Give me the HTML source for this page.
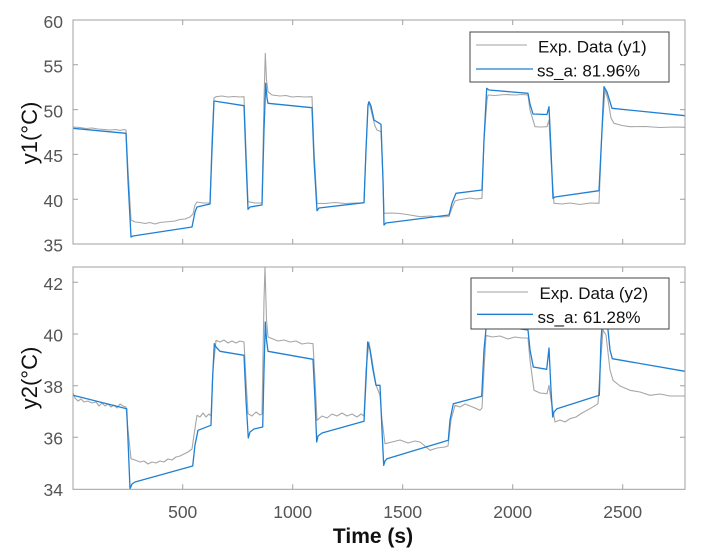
<!DOCTYPE html>
<html><head><meta charset="utf-8"><style>
html,body{margin:0;padding:0;background:#fff;}
svg{display:block;}
text{font-family:"Liberation Sans","Noto Sans CJK KR",sans-serif;}
</style></head><body>
<svg width="715" height="552" viewBox="0 0 715 552" xmlns="http://www.w3.org/2000/svg">
<rect width="715" height="552" fill="#fff"/>
<!-- TOP AXES -->
<g fill="none" stroke-linejoin="round">
<path d="M73,127 L80,127.5 L86,128.5 L92,128 L98,129 L104,129.5 L110,130 L116,129.5 L120,130.5 L124,129.5 L126,130 L128,170 L131,220 L135,222 L140,222.5 L145,223.5 L150,222.5 L155,224 L160,222.5 L165,222 L170,221.5 L175,221 L180,219.5 L185,219 L190,217 L193,214 L195,205 L197,202 L203,203 L210,203 L212,140 L214,98 L216,96.7 L222,96 L228,97 L234,96.5 L240,97 L244,96.7 L246,150 L248,201.7 L255,203 L262,203 L264,100 L265.3,53.3 L266.5,80 L268,91.7 L272,95 L280,96 L286,95.5 L292,97 L298,96.5 L305,97 L312,96.7 L314,150 L317,203.3 L325,203.5 L335,202.5 L345,203.5 L355,203 L364,203 L366,150 L368,106 L369,103 L371,110 L375,126 L377,130 L381,131.7 L383,180 L384,213.3 L392,213 L400,213.5 L410,215 L420,216.7 L430,216 L440,217 L449,216.5 L452,208 L455,201 L458,200 L464,199 L470,198 L476,199 L482,198.3 L484,140 L487,100 L488,95 L495,95.5 L505,94.5 L515,95 L522,94.5 L528,95 L530,110 L535,126.7 L541,127 L547,126.7 L549,120 L551,160 L554,203.3 L562,204 L570,203 L580,204.5 L590,203 L599,203.3 L602,130 L605,90 L608,100 L611,118 L614,123.3 L622,125.5 L630,126.7 L645,126.5 L660,127.5 L675,127 L685,127.3" stroke="#a6a6a6" stroke-width="1.1"/>
<path d="M73,128.3 L126,133.3 L128,180 L131,237 L133,236 L192,227 L195,212 L197,207 L210,204 L212,150 L214,101 L244,105.7 L246,160 L248,209.3 L250,207 L262,205 L264,130 L265.7,83.3 L267,98 L268,103.3 L312,107.7 L314,160 L317,210.7 L319,208 L364,202.7 L366,150 L368,105 L369,101.7 L371,106 L374,120 L381,124.3 L383,180 L384,225 L386,223 L449,215 L452,203 L456,193.3 L482,190 L484,140 L486.7,88.3 L489,90 L528,93.3 L530,104 L533,114 L547,114.5 L549,106.7 L551,150 L553,198.3 L555,197 L599,190.7 L602,130 L604,86.7 L607,92 L612,108.3 L685,115.7" stroke="#1f80d3" stroke-width="1.3"/>
</g>
<rect x="73" y="20" width="612" height="224" fill="none" stroke="#a0a0a0" stroke-width="1"/>
<g stroke="#a0a0a0" stroke-width="1">
<path d="M182.7,20v5M292.7,20v5M402.7,20v5M512.7,20v5M622.7,20v5"/>
<path d="M182.7,244v-5M292.7,244v-5M402.7,244v-5M512.7,244v-5M622.7,244v-5"/>
<path d="M73,64.8h5M73,109.6h5M73,154.4h5M73,199.2h5"/>
<path d="M685,64.8h-5M685,109.6h-5M685,154.4h-5M685,199.2h-5"/>
</g>
<g font-size="17.5" fill="#555" text-anchor="end">
<text x="63" y="28">60</text>
<text x="63" y="72.5">55</text>
<text x="63" y="117.5">50</text>
<text x="63" y="162">45</text>
<text x="63" y="207">40</text>
<text x="63" y="251.5">35</text>
</g>
<text transform="translate(37,133) rotate(-90)" text-anchor="middle" font-size="22" fill="#111">y1(°C)</text>
<!-- top legend -->
<rect x="470" y="32" width="199" height="50" fill="#fff" stroke="#444" stroke-width="1"/>
<path d="M476,45 H527" stroke="#b5b5b5" stroke-width="1.2"/>
<path d="M476,69 H533" stroke="#1f80d3" stroke-width="1.3"/>
<text x="538" y="52.5" font-size="17" fill="#111">Exp. Data (y1)</text>
<text x="537" y="76.5" font-size="17" fill="#111">ss_a: 81.96%</text>

<!-- BOTTOM AXES -->
<g fill="none" stroke-linejoin="round">
<path d="M73,393 L75,398 L78,401 L81,399 L84,402 L88,401 L92,403 L96,402 L99,406 L102,403 L105,406 L108,404 L111,407 L114,405 L117,408 L120,404 L123,406 L126,407 L128,430 L131,458.7 L135,460 L140,462 L144,461 L148,464 L152,462 L156,463 L160,461 L164,462 L168,459 L172,460 L176,457 L180,456 L184,454 L188,452 L192,449 L194,435 L197,415.3 L200,417 L203,413 L206,417 L209,414 L211,416 L213,370 L216,340.3 L220,342 L224,340 L228,343 L232,341 L236,343 L240,341 L244,342 L246,380 L248,413.7 L252,416 L256,412 L260,415 L262,414 L264,300 L265,267 L266.5,320 L268,337 L273,339 L278,341 L284,340 L290,342 L296,341 L302,344 L308,343 L313,343.7 L315,380 L317,420.3 L322,416 L327,418 L332,414 L337,416 L342,413 L347,416 L352,414 L357,417 L361,414 L364,416 L366,370 L369,342 L372,360 L376,385 L380,395.3 L382,420 L385,443.7 L392,442 L400,440 L408,443 L415,441 L420,442 L425,446 L430,450.3 L437,448 L445,447 L448,446 L451,420 L455,405.3 L460,407 L465,404 L470,406 L475,408 L480,410.3 L482,408 L484,370 L486,335.3 L492,337 L500,336 L508,339 L515,337 L522,338 L528,338 L530,360 L534,390.3 L540,393 L547,393.7 L549,385.3 L551,400 L555,422 L560,420 L565,422 L570,418.7 L576,417 L582,413 L590,408.7 L598,403.7 L600,370 L603,330 L606,335 L610,370 L613,380.3 L620,386 L630,390.3 L640,392 L650,395.3 L660,394 L670,396 L685,396" stroke="#a6a6a6" stroke-width="1.1"/>
<path d="M73,395.3 L126.7,408.7 L128,440 L130,488.7 L132,484 L135,482 L192.7,466 L195,445 L198,430.3 L211,425.3 L212.5,380 L214.3,343.7 L216,347 L220,351.3 L244,355.3 L246,400 L248.3,438 L250,432 L254,429 L262.7,427 L264,370 L265.3,322 L266.5,340 L268,351.3 L313,359.3 L315,400 L316.7,442 L318,436 L322,433 L364,421.3 L366,380 L367.7,342 L370,350 L373,370 L376,385.3 L380,385.3 L382,430 L383.7,465.3 L385,461 L387,458.7 L448.3,440.3 L450,420 L453.3,403.7 L481.7,396.3 L484,350 L487,318 L490,325 L528,330 L530,350 L533.3,367 L546.7,369.3 L549,348 L551,390 L552.7,417 L554,412 L557,408.7 L599.3,395.3 L601,340 L604,300 L607,320 L610,350 L612.3,358.7 L685,371.3" stroke="#1f80d3" stroke-width="1.3"/>
</g>
<rect x="73" y="267" width="612" height="222.3" fill="none" stroke="#a0a0a0" stroke-width="1"/>
<g stroke="#a0a0a0" stroke-width="1">
<path d="M182.7,267v5M292.7,267v5M402.7,267v5M512.7,267v5M622.7,267v5"/>
<path d="M182.7,489.3v-5M292.7,489.3v-5M402.7,489.3v-5M512.7,489.3v-5M622.7,489.3v-5"/>
<path d="M73,282.3h5M73,334h5M73,385.7h5M73,437.3h5"/>
<path d="M685,282.3h-5M685,334h-5M685,385.7h-5M685,437.3h-5"/>
</g>
<g font-size="17.5" fill="#555" text-anchor="end">
<text x="63" y="290">42</text>
<text x="63" y="341.5">40</text>
<text x="63" y="393">38</text>
<text x="63" y="444.5">36</text>
<text x="63" y="496">34</text>
</g>
<g font-size="17.5" fill="#555" text-anchor="middle">
<text x="182.7" y="518">500</text>
<text x="292.7" y="518">1000</text>
<text x="402.7" y="518">1500</text>
<text x="512.7" y="518">2000</text>
<text x="622.7" y="518">2500</text>
</g>
<text transform="translate(37,378) rotate(-90)" text-anchor="middle" font-size="22" fill="#111">y2(°C)</text>
<text x="373" y="543" text-anchor="middle" font-size="21" font-weight="bold" fill="#111">Time (s)</text>
<!-- bottom legend -->
<rect x="471" y="278" width="198" height="51" fill="#fff" stroke="#444" stroke-width="1"/>
<path d="M477,292 H528" stroke="#b5b5b5" stroke-width="1.2"/>
<path d="M477,314.3 H533" stroke="#1f80d3" stroke-width="1.3"/>
<text x="539.5" y="299" font-size="17" fill="#111">Exp. Data (y2)</text>
<text x="537.5" y="323" font-size="17" fill="#111">ss_a: 61.28%</text>
</svg>
</body></html>
